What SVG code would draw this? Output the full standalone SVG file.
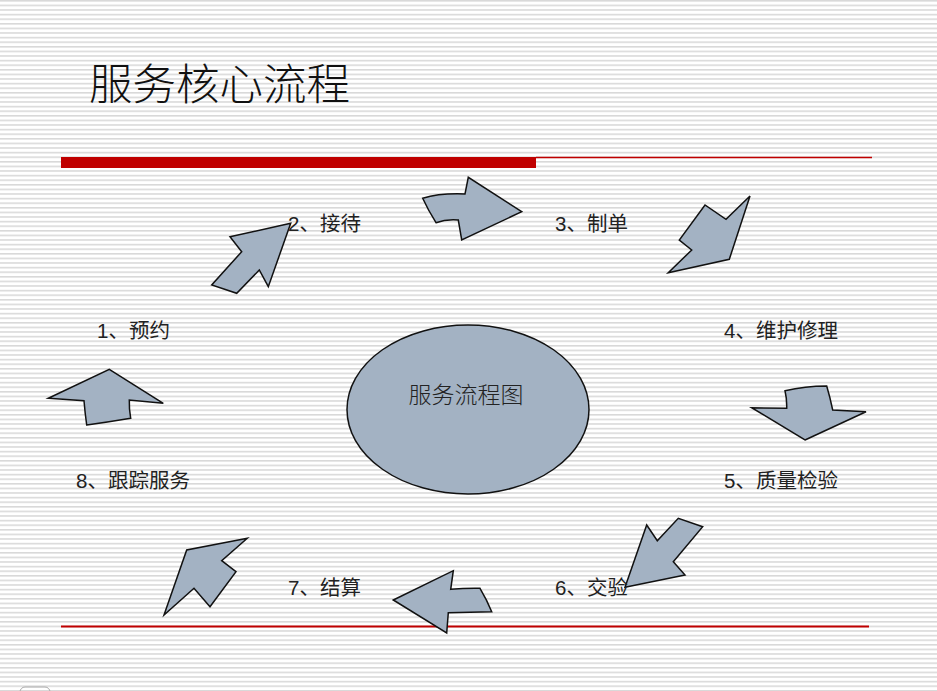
<svg xmlns="http://www.w3.org/2000/svg" width="937" height="691" viewBox="0 0 937 691">
<defs>
<pattern id="stripes" x="0" y="0" width="10" height="4.6" patternUnits="userSpaceOnUse">
<rect x="0" y="0" width="10" height="1.6" fill="#d9d9d9"/>
</pattern>
<style>
.arrow{fill:#a3b2c3;stroke:#111;stroke-width:1.5;stroke-linejoin:miter}
.lbl{font-family:"Liberation Sans","Noto Sans CJK SC",sans-serif;font-size:20.5px;fill:#222}
.title{font-family:"Noto Sans CJK SC",sans-serif;font-size:43.5px;fill:#111;font-weight:300}
</style>
</defs>
<rect width="937" height="691" fill="#ffffff"/>
<rect width="937" height="691" fill="url(#stripes)"/>
<text class="title" x="89" y="100">服务核心流程</text>
<rect x="61" y="157" width="475" height="11" fill="#c00000"/>
<line x1="536" y1="157.5" x2="872" y2="157.5" stroke="#c00000" stroke-width="1.5"/>
<line x1="61" y1="626.5" x2="869" y2="626.5" stroke="#c00000" stroke-width="2"/>
<g id="center">
<ellipse cx="468" cy="409.5" rx="121" ry="84.5" fill="#a3b2c3" stroke="#111" stroke-width="1.5"/>
<text x="466" y="403" text-anchor="middle" style="font-family:'Noto Sans CJK SC',sans-serif;font-size:23px;fill:#222;font-weight:300">服务流程图</text>
</g>
<g id="connectors">
<polygon class="arrow" points="290.7,223.3 230,236.7 241.7,251.7 211.7,285 236.7,293.3 259.3,270 268.3,286.7"/>
<path class="arrow" d="M521.7,211.7 L468.3,177.3 L465,194 Q440,193 422.7,198.3 Q428,210 436,222.7 Q446,219 458.3,220 L461.7,240 Z"/>
<polygon class="arrow" points="668.3,272.7 729.3,259.3 750,196 726,219.3 705,205 679.3,240 691.7,250"/>
<path class="arrow" d="M805,440 L866,411.7 L832.7,410 Q830,397 826.7,386 Q805,386 785,390.7 Q787,399 786.7,408.3 L751.7,407.7 Z"/>
<path class="arrow" d="M702.7,526.7 L678.3,518.3 L657.3,540.7 L646.7,525 L625,587.3 L685,575 L673.3,561.7 Z"/>
<path class="arrow" d="M393.3,600 L453.3,570.7 L450.7,589.3 Q466,588 480,588.3 Q487,600 491.7,611.7 Q470,612 448.3,612.7 L446.7,633 Z"/>
<polygon class="arrow" points="247.3,538.3 221.7,560.7 236,571.7 210,606.7 194,588.3 164,615 186.7,550"/>
<path class="arrow" d="M109.3,369.3 L163.3,403.3 L129.3,400 Q129,409 130.7,418.3 Q109,422 86.7,425 Q85,413 84,400.7 L48.3,398.3 Z"/>
</g>
<g id="n1"><text class="lbl" x="97" y="338">1、预约</text></g>
<g id="n2"><text class="lbl" x="288" y="231">2、接待</text></g>
<g id="n3"><text class="lbl" x="555" y="231">3、制单</text></g>
<g id="n4"><text class="lbl" x="724" y="338">4、维护修理</text></g>
<g id="n5"><text class="lbl" x="724" y="488">5、质量检验</text></g>
<g id="n6"><text class="lbl" x="555" y="595">6、交验</text></g>
<g id="n7"><text class="lbl" x="288" y="595">7、结算</text></g>
<g id="n8"><text class="lbl" x="76" y="488">8、跟踪服务</text></g>
<rect x="20" y="687" width="30" height="12" rx="5" fill="none" stroke="#aaaaaa" stroke-width="1"/>
</svg>
